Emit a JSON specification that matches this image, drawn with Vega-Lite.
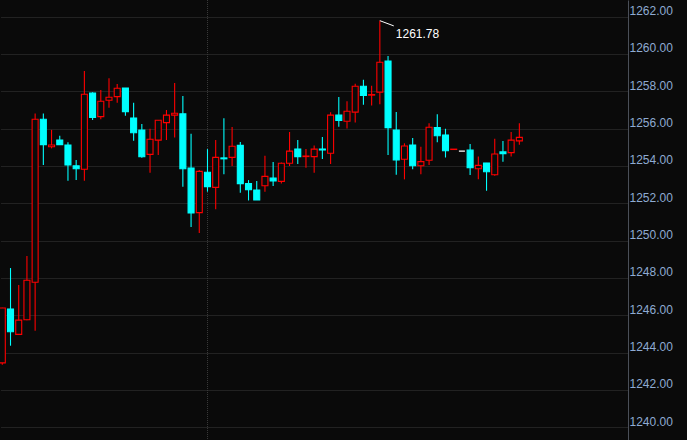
{
  "$schema": "https://vega.github.io/schema/vega-lite/v6.json",
  "width": 628,
  "height": 440,
  "autosize": "none",
  "padding": {"left": 0, "top": 0, "right": 59, "bottom": 0},
  "background": "#0a0a0a",
  "config": {
    "view": {"stroke": null},
    "axisY": {
      "orient": "right", "title": null, "values": [1240, 1242, 1244, 1246, 1248, 1250, 1252, 1254, 1256, 1258, 1260, 1262],
      "format": ".2f", "grid": true, "gridColor": "#3a3a3a", "gridDash": [1, 1], "gridWidth": 1,
      "ticks": false, "domain": true, "domainColor": "#4a4f58", "domainWidth": 1,
      "labelColor": "#8eaad2", "labelFont": "Liberation Sans", "labelFontSize": 12,
      "labelBaseline": "alphabetic", "labelOffset": -2, "labelPadding": 1, "labelAlign": "left", "labelBound": false, "labelOverlap": false
    }
  },
  "datasets": {
    "candles": [
      {"i": 0, "o": 1243.45, "h": 1246.4, "l": 1243.35, "c": 1246.39},
      {"i": 1, "o": 1246.34, "h": 1248.53, "l": 1244.37, "c": 1245.12},
      {"i": 2, "o": 1244.98, "h": 1247.62, "l": 1244.95, "c": 1245.74},
      {"i": 3, "o": 1245.76, "h": 1249.17, "l": 1245.74, "c": 1247.88},
      {"i": 4, "o": 1247.77, "h": 1256.81, "l": 1245.17, "c": 1256.5},
      {"i": 5, "o": 1256.5, "h": 1256.81, "l": 1254.05, "c": 1255.14},
      {"i": 6, "o": 1255.03, "h": 1255.93, "l": 1254.94, "c": 1255.12},
      {"i": 7, "o": 1255.39, "h": 1255.61, "l": 1255.14, "c": 1255.14},
      {"i": 8, "o": 1255.12, "h": 1255.27, "l": 1253.2, "c": 1254.05},
      {"i": 9, "o": 1254.0, "h": 1254.32, "l": 1253.24, "c": 1253.85},
      {"i": 10, "o": 1253.82, "h": 1259.08, "l": 1253.2, "c": 1257.84},
      {"i": 11, "o": 1257.9, "h": 1257.95, "l": 1256.46, "c": 1256.59},
      {"i": 12, "o": 1256.64, "h": 1258.06, "l": 1256.5, "c": 1257.46},
      {"i": 13, "o": 1257.52, "h": 1258.7, "l": 1257.12, "c": 1257.68},
      {"i": 14, "o": 1257.71, "h": 1258.39, "l": 1257.39, "c": 1258.16},
      {"i": 15, "o": 1258.17, "h": 1258.18, "l": 1256.69, "c": 1256.91},
      {"i": 16, "o": 1256.57, "h": 1257.39, "l": 1255.35, "c": 1255.78},
      {"i": 17, "o": 1255.92, "h": 1256.25, "l": 1254.44, "c": 1254.49},
      {"i": 18, "o": 1254.62, "h": 1255.99, "l": 1253.63, "c": 1255.43},
      {"i": 19, "o": 1255.38, "h": 1256.46, "l": 1254.59, "c": 1256.45},
      {"i": 20, "o": 1256.32, "h": 1257.0, "l": 1255.39, "c": 1256.72},
      {"i": 21, "o": 1256.72, "h": 1258.44, "l": 1255.52, "c": 1256.82},
      {"i": 22, "o": 1256.79, "h": 1257.75, "l": 1252.88, "c": 1253.85},
      {"i": 23, "o": 1253.89, "h": 1255.72, "l": 1250.73, "c": 1251.48},
      {"i": 24, "o": 1251.5, "h": 1253.78, "l": 1250.41, "c": 1253.71},
      {"i": 25, "o": 1253.66, "h": 1254.9, "l": 1252.62, "c": 1252.89},
      {"i": 26, "o": 1252.85, "h": 1255.39, "l": 1251.68, "c": 1254.46},
      {"i": 27, "o": 1254.43, "h": 1256.55, "l": 1253.55, "c": 1254.38},
      {"i": 28, "o": 1254.46, "h": 1256.08, "l": 1254.0, "c": 1255.05},
      {"i": 29, "o": 1255.1, "h": 1255.28, "l": 1252.56, "c": 1253.05},
      {"i": 30, "o": 1253.06, "h": 1253.24, "l": 1252.15, "c": 1252.72},
      {"i": 31, "o": 1252.71, "h": 1253.19, "l": 1252.18, "c": 1252.18},
      {"i": 32, "o": 1252.94, "h": 1254.54, "l": 1252.62, "c": 1253.44},
      {"i": 33, "o": 1253.35, "h": 1254.21, "l": 1252.92, "c": 1253.2},
      {"i": 34, "o": 1253.17, "h": 1254.18, "l": 1253.06, "c": 1254.14},
      {"i": 35, "o": 1254.14, "h": 1255.82, "l": 1254.0, "c": 1254.79},
      {"i": 36, "o": 1254.91, "h": 1255.39, "l": 1254.1, "c": 1254.5},
      {"i": 37, "o": 1254.5, "h": 1254.91, "l": 1253.9, "c": 1254.53},
      {"i": 38, "o": 1254.5, "h": 1255.1, "l": 1253.63, "c": 1254.9},
      {"i": 39, "o": 1254.91, "h": 1255.55, "l": 1254.37, "c": 1254.85},
      {"i": 40, "o": 1254.68, "h": 1256.88, "l": 1254.1, "c": 1256.72},
      {"i": 41, "o": 1256.72, "h": 1257.69, "l": 1256.1, "c": 1256.43},
      {"i": 42, "o": 1256.39, "h": 1257.47, "l": 1256.0, "c": 1256.93},
      {"i": 43, "o": 1256.88, "h": 1258.4, "l": 1256.32, "c": 1258.27},
      {"i": 44, "o": 1258.27, "h": 1258.61, "l": 1257.28, "c": 1257.77},
      {"i": 45, "o": 1257.79, "h": 1258.29, "l": 1257.23, "c": 1257.82},
      {"i": 46, "o": 1257.95, "h": 1261.78, "l": 1257.3, "c": 1259.55},
      {"i": 47, "o": 1259.62, "h": 1259.89, "l": 1254.59, "c": 1256.05},
      {"i": 48, "o": 1255.92, "h": 1256.89, "l": 1253.53, "c": 1254.32},
      {"i": 49, "o": 1254.36, "h": 1255.21, "l": 1253.28, "c": 1255.07},
      {"i": 50, "o": 1255.12, "h": 1255.5, "l": 1253.82, "c": 1254.01},
      {"i": 51, "o": 1254.01, "h": 1255.03, "l": 1253.55, "c": 1254.23},
      {"i": 52, "o": 1254.3, "h": 1256.28, "l": 1254.05, "c": 1256.07},
      {"i": 53, "o": 1256.05, "h": 1256.77, "l": 1255.27, "c": 1255.62},
      {"i": 54, "o": 1255.66, "h": 1255.99, "l": 1254.45, "c": 1254.81},
      {"i": 55, "o": 1254.88, "h": 1254.9, "l": 1254.88, "c": 1254.9},
      {"i": 56, "o": 1254.79, "h": 1254.79, "l": 1254.79, "c": 1254.79},
      {"i": 57, "o": 1254.85, "h": 1255.18, "l": 1253.51, "c": 1253.9},
      {"i": 58, "o": 1253.85, "h": 1254.5, "l": 1253.29, "c": 1254.03},
      {"i": 59, "o": 1254.16, "h": 1254.16, "l": 1252.67, "c": 1253.69},
      {"i": 60, "o": 1253.53, "h": 1255.45, "l": 1253.47, "c": 1254.64},
      {"i": 61, "o": 1254.75, "h": 1255.34, "l": 1254.23, "c": 1254.66},
      {"i": 62, "o": 1254.71, "h": 1255.82, "l": 1254.5, "c": 1255.38},
      {"i": 63, "o": 1255.34, "h": 1256.28, "l": 1255.14, "c": 1255.53}
    ],
    "separator": [{"i": 25}],
    "maxmark": [{"i": 46, "h": 1261.78, "i2": 47.7, "h2": 1261.5, "label": "1261.78"}]
  },
  "layer": [
    {
      "data": {"name": "separator"},
      "mark": {"type": "rule", "color": "#3a3a3a", "strokeDash": [1, 1], "strokeWidth": 1},
      "encoding": {
        "x": {"field": "i", "type": "quantitative", "scale": {"domain": [0.3285, 75.628], "nice": false, "zero": false}, "axis": null}
      }
    },
    {
      "data": {"name": "candles"},
      "mark": {"type": "rule", "strokeWidth": 1.1, "clip": true},
      "encoding": {
        "x": {"field": "i", "type": "quantitative", "scale": {"domain": [0.3285, 75.628], "nice": false, "zero": false}, "axis": null},
        "y": {
          "field": "l", "type": "quantitative",
          "scale": {"domain": [1239.32, 1262.887], "nice": false, "zero": false},
          "axis": {"values": [1240, 1242, 1244, 1246, 1248, 1250, 1252, 1254, 1256, 1258, 1260, 1262], "title": null, "orient": "right"}
        },
        "y2": {"field": "h"},
        "color": {
          "condition": [
            {"test": "datum.c > datum.o", "value": "#ff0000"},
            {"test": "datum.c < datum.o", "value": "#00ffff"}
          ],
          "value": "#ffffff"
        }
      }
    },
    {
      "data": {"name": "candles"},
      "mark": {"type": "bar", "size": 6, "strokeWidth": 1.1, "clip": true},
      "encoding": {
        "x": {"field": "i", "type": "quantitative", "scale": {"domain": [0.3285, 75.628], "nice": false, "zero": false}, "axis": null},
        "y": {"field": "o", "type": "quantitative", "scale": {"domain": [1239.32, 1262.887], "nice": false, "zero": false},
          "axis": {"values": [1240, 1242, 1244, 1246, 1248, 1250, 1252, 1254, 1256, 1258, 1260, 1262], "title": null, "orient": "right"}},
        "y2": {"field": "c"},
        "fill": {
          "condition": [
            {"test": "datum.c > datum.o", "value": "#0a0a0a"},
            {"test": "datum.c < datum.o", "value": "#00ffff"}
          ],
          "value": "#ffffff"
        },
        "stroke": {
          "condition": [
            {"test": "datum.c > datum.o", "value": "#ff0000"},
            {"test": "datum.c < datum.o", "value": "#00ffff"}
          ],
          "value": "#ffffff"
        }
      }
    },
    {
      "data": {"name": "maxmark"},
      "mark": {"type": "rule", "color": "#ffffff", "strokeWidth": 1},
      "encoding": {
        "x": {"field": "i", "type": "quantitative", "scale": {"domain": [0.3285, 75.628], "nice": false, "zero": false}, "axis": null},
        "y": {"field": "h", "type": "quantitative", "scale": {"domain": [1239.32, 1262.887], "nice": false, "zero": false},
          "axis": {"values": [1240, 1242, 1244, 1246, 1248, 1250, 1252, 1254, 1256, 1258, 1260, 1262], "title": null, "orient": "right"}},
        "x2": {"field": "i2"},
        "y2": {"field": "h2"}
      }
    },
    {
      "data": {"name": "maxmark"},
      "mark": {"type": "text", "color": "#ffffff", "font": "Liberation Sans", "fontSize": 12, "align": "left", "baseline": "middle", "dx": 16, "dy": 13},
      "encoding": {
        "x": {"field": "i", "type": "quantitative", "scale": {"domain": [0.3285, 75.628], "nice": false, "zero": false}, "axis": null},
        "y": {"field": "h", "type": "quantitative", "scale": {"domain": [1239.32, 1262.887], "nice": false, "zero": false},
          "axis": {"values": [1240, 1242, 1244, 1246, 1248, 1250, 1252, 1254, 1256, 1258, 1260, 1262], "title": null, "orient": "right"}},
        "text": {"field": "label"}
      }
    }
  ]
}
